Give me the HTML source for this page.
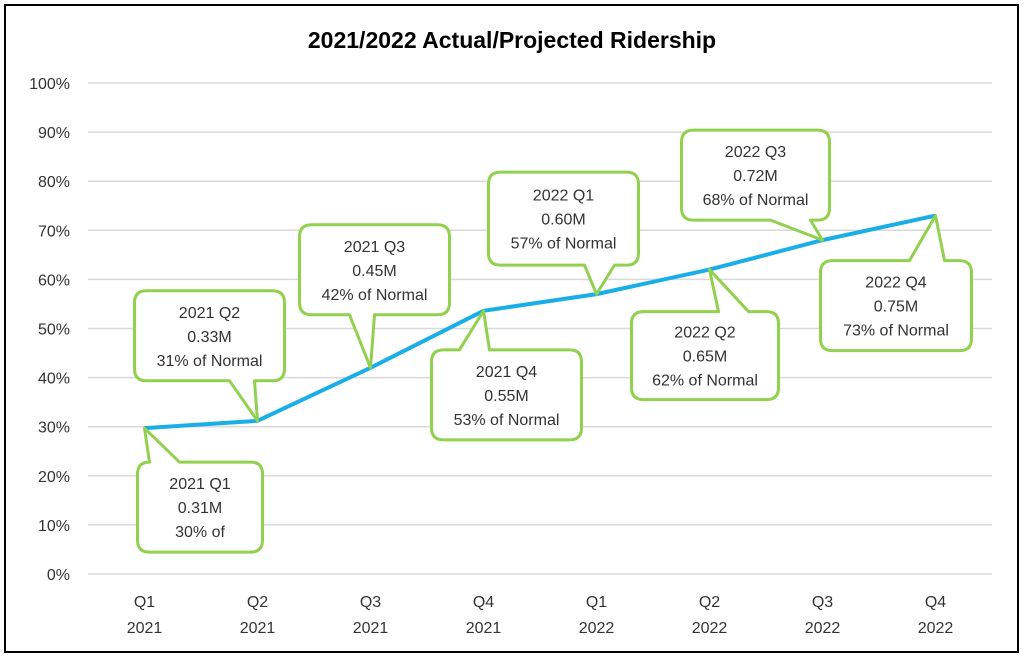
<!DOCTYPE html>
<html><head><meta charset="utf-8"><style>
html,body{margin:0;padding:0;background:#fff}
svg{display:block;font-family:"Liberation Sans",sans-serif}
</style></head><body>
<svg id="c" width="1024" height="656" viewBox="0 0 1024 656">
<rect x="5" y="5" width="1013" height="647" fill="#fff" stroke="#000" stroke-width="2"/>
<text x="512" y="48" text-anchor="middle" font-size="23" font-weight="bold" fill="#000">2021/2022 Actual/Projected Ridership</text>
<g id="grid"></g><g id="ylab"></g><g id="xlab"></g><g id="line"></g><g id="callouts"></g>
</svg>
<script>
const categories=["Q1|2021","Q2|2021","Q3|2021","Q4|2021","Q1|2022","Q2|2022","Q3|2022","Q4|2022"];
const values=[29.7,31.2,42,53.6,57,62,68,73];
const labelTitles=["2021 Q1","2021 Q2","2021 Q3","2021 Q4","2022 Q1","2022 Q2","2022 Q3","2022 Q4"];
const labelRiders=["0.31M","0.33M","0.45M","0.55M","0.60M","0.65M","0.72M","0.75M"];
const labelPcts=["30% of","31% of Normal","42% of Normal","53% of Normal","57% of Normal","62% of Normal","68% of Normal","73% of Normal"];
const yTicks=[0,10,20,30,40,50,60,70,80,90,100];
const NS="http://www.w3.org/2000/svg";
const L=88,R=992,T=83,B=574;
const step=(R-L)/categories.length;
const x=i=>L+step*(i+0.5);
const y=v=>B-(v/100)*(B-T);
function mk(t,a,p){const e=document.createElementNS(NS,t);for(const k in a)e.setAttribute(k,a[k]);p.appendChild(e);return e;}
const grid=document.getElementById('grid'),ylab=document.getElementById('ylab'),xlab=document.getElementById('xlab');
yTicks.forEach(v=>{
 const g=mk('line',{x1:L,x2:R,y1:y(v),y2:y(v),stroke:'#d9d9d9','stroke-width':1.5},grid);
 
 
 const t=mk('text',{x:70,y:y(v)+6,'text-anchor':'end','font-size':16,fill:'#333'},ylab);
 t.textContent=v+'%';
 
 
});
categories.forEach((c,i)=>{
 const [q,yr]=c.split('|');
 const t=mk('text',{x:x(i),y:607,'text-anchor':'middle','font-size':16,fill:'#333'},xlab);
 
 
 mk('tspan',{x:x(i),dy:0},t).textContent=q;
 mk('tspan',{x:x(i),dy:26},t).textContent=yr;
});
const pl=mk('polyline',{points:values.map((v,i)=>x(i)+','+y(v)).join(' '),fill:'none',stroke:'#1aaee8','stroke-width':4,'stroke-linejoin':'round'},document.getElementById('line'));


const lay=[[-7,34,125,90,12,42,'top'],[-123,-130,150,90,95,120,'bottom'],[-71,-143,150,90,50,75,'bottom'],[-52,39,150,90,28,58,'top'],[-108,-122,150,93,96,126,'bottom'],[-78,42,147,88,87,117,'top'],[-141,-110,148,90,89,129,'bottom'],[-115,45,151,90,89,124,'top']];
const co=document.getElementById('callouts');
values.forEach((v,i)=>{
 const px=x(i),py=y(v);const [dx,dy,w,h,a,b,side]=lay[i];
 const X=px+dx,Y=py+dy,r=12;
 let d;
 if(side==='top'){d=`M${X+r},${Y} L${X+a},${Y} L${px},${py} L${X+b},${Y} L${X+w-r},${Y} Q${X+w},${Y} ${X+w},${Y+r} L${X+w},${Y+h-r} Q${X+w},${Y+h} ${X+w-r},${Y+h} L${X+r},${Y+h} Q${X},${Y+h} ${X},${Y+h-r} L${X},${Y+r} Q${X},${Y} ${X+r},${Y} Z`;}
 else{d=`M${X+r},${Y} L${X+w-r},${Y} Q${X+w},${Y} ${X+w},${Y+r} L${X+w},${Y+h-r} Q${X+w},${Y+h} ${X+w-r},${Y+h} L${X+b},${Y+h} L${px},${py} L${X+a},${Y+h} L${X+r},${Y+h} Q${X},${Y+h} ${X},${Y+h-r} L${X},${Y+r} Q${X},${Y} ${X+r},${Y} Z`;}
 const g=mk('g',{},co);
 
 
 mk('path',{d:d,fill:'#fff',stroke:'#92d050','stroke-width':3,'stroke-linejoin':'round'},g);
 const lines=[labelTitles[i],labelRiders[i],labelPcts[i]];
 lines.forEach((s,k)=>{
  const t=mk('text',{x:X+w/2,y:Y+h/2-18+k*24,'text-anchor':'middle','font-size':16,fill:'#333'},g);
  t.textContent=s;
 });
});
</script>
</body></html>
